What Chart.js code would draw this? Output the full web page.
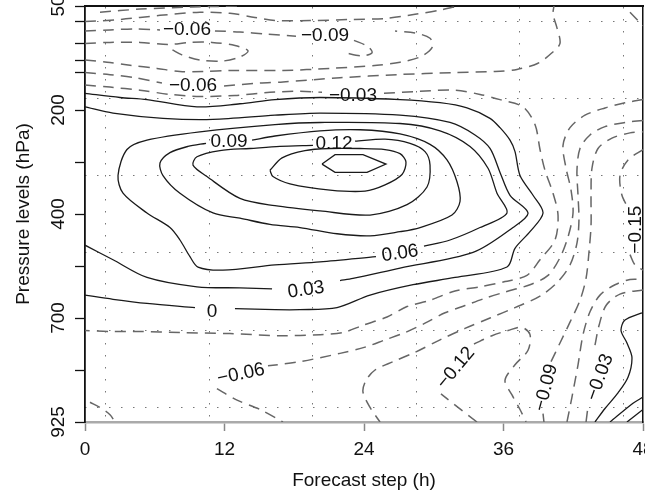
<!DOCTYPE html>
<html>
<head>
<meta charset="utf-8">
<script src="https://cdn.jsdelivr.net/npm/chart.js@4/dist/chart.umd.min.js"></script>
<style>
  html, body { margin: 0; padding: 0; background: #fff; }
  #wrap { width: 645px; height: 495px; }
</style>
</head>
<body>
<div id="wrap"><canvas id="contourChart"></canvas></div>
<script>
// axis ticks
const steps = [0, 12, 24, 36, 48];
const levelPos = [0, 1, 2, 3, 4];
const levelLabels = ['50', '200', '400', '700', '925'];
const minorLevelPos = [0.15, 0.36, 0.52, 0.64, 1.5, 2.5, 3.5];
// dotted overlay grid
const gridSteps = [1.8, 10.75, 19.6, 28.5, 37.4, 46.3];
const gridLevels = [0.15, 0.89, 1.63, 2.37, 3.12, 3.86];

// contour lines, points are [forecast step (h), level position]
const c0Top = [[0,0.84],[3.01,0.88],[5.33,0.90],[9.63,0.97],[13.33,0.94],[16.34,0.90],[20.22,0.88],[27.10,0.90],[30.54,0.93],[32.86,0.98],[34.84,1.08],[35.70,1.17],[36.56,1.29],[36.99,1.40],[37.42,1.63],[38.54,1.82],[39.40,1.99],[38.28,2.17],[36.99,2.33],[36.30,2.51],[31.83,2.61],[28.22,2.68],[24.52,2.78],[21.68,2.90],[18.49,2.92],[16.34,2.92],[12.90,2.91]];
const c0Left = [[9.46,2.90],[5.33,2.86],[2.41,2.82],[0,2.78]];
const c03Main = [[0,0.97],[2.41,1.03],[6.71,1.08],[11.01,1.09],[16.34,1.05],[20.22,1.03],[27.10,1.05],[31.40,1.12],[33.55,1.24],[34.84,1.37],[35.70,1.60],[36.56,1.82],[38.11,1.99],[36.82,2.13],[33.38,2.37],[27.10,2.52],[23.05,2.62],[21.94,2.64]];
const c03Left = [[16.09,2.72],[13.33,2.71],[9.63,2.70],[5.33,2.61],[2.41,2.44],[0,2.30]];
const c06 = [[29.16,2.31],[31.40,2.25],[33.98,2.13],[36.30,1.99],[35.44,1.80],[34.67,1.56],[33.12,1.35],[30.54,1.20],[27.10,1.13],[20.22,1.12],[16.34,1.14],[9.89,1.21],[5.33,1.29],[3.61,1.38],[2.84,1.63],[3.27,1.80],[5.33,1.99],[7.31,2.13],[8.17,2.25],[9.03,2.41],[9.72,2.51],[11.87,2.54],[16.34,2.49],[20.22,2.46],[25.03,2.41]];
const c09 = [[14.37,1.29],[16.34,1.25],[20.22,1.20],[23.66,1.19],[27.10,1.23],[29.68,1.33],[31.14,1.48],[32.00,1.69],[32.26,1.88],[31.57,2.01],[28.82,2.13],[27.10,2.17],[24.52,2.21],[21.68,2.19],[18.49,2.13],[15.91,2.10],[13.33,2.04],[11.01,1.99],[8.17,1.80],[6.71,1.63],[6.45,1.51],[7.31,1.41],[8.86,1.35],[10.41,1.32]];
const c12 = [[23.23,1.30],[25.81,1.28],[27.96,1.32],[29.25,1.40],[29.68,1.53],[29.42,1.74],[27.70,1.91],[24.52,2.01],[20.22,1.97],[16.34,1.92],[13.33,1.85],[10.49,1.64],[9.29,1.53],[9.63,1.45],[11.61,1.39],[14.19,1.37],[16.77,1.35],[19.61,1.34]];
const c15 = [[15.91,1.58],[16.95,1.46],[18.92,1.39],[21.08,1.37],[23.66,1.37],[25.81,1.38],[27.10,1.42],[27.61,1.50],[27.27,1.62],[25.81,1.72],[24.09,1.78],[21.08,1.77],[17.63,1.71],[16.17,1.64],[15.91,1.58]];
const c18 = [[20.39,1.52],[21.51,1.43],[23.91,1.43],[25.89,1.52],[24.26,1.60],[21.51,1.60],[20.39,1.52]];
const br1 = [[47.91,2.95],[46.45,3.02],[46.11,3.12],[46.62,3.24],[47.05,3.38],[46.71,3.57],[45.85,3.72],[44.73,3.87],[43.87,4.00]];
const br2 = [[45.16,4.00],[47.14,3.82],[48,3.76]];
const br3 = [[46.62,4.00],[48,3.88]];

const topA = [[1.29,0.06],[4.73,0.03],[9.03,0.01],[13.33,0]];
const topB = [[0,0.15],[3.01,0.13],[6.45,0.09],[9.89,0.06],[12.47,0.07],[14.62,0.11],[16.34,0.14],[19.35,0.14],[22.80,0.13],[25.81,0.12],[28.39,0.08],[30.54,0.04],[32.09,0]];
const topC = [[0,0.24],[2.15,0.23],[4.30,0.22],[6.45,0.23]];
const topE1 = [[11.18,0.24],[13.33,0.25],[15.48,0.27],[18.15,0.29]];
const topE2 = [[23.14,0.33],[24.34,0.39],[24.69,0.45],[23.83,0.48],[22.37,0.45]];
const topD = [[0,0.36],[2.15,0.35],[4.73,0.35],[7.14,0.37],[9.03,0.35],[10.92,0.35],[12.90,0.38],[14.02,0.43],[13.33,0.49],[11.78,0.53],[9.89,0.52],[8.34,0.47],[7.48,0.42]];
const topG = [[0,0.52],[1.89,0.54],[3.87,0.57],[6.19,0.60],[8.17,0.63],[10.15,0.63],[12.47,0.62],[17.03,0.62],[21.08,0.60],[25.12,0.57],[27.10,0.54],[28.82,0.49],[29.85,0.40],[29.68,0.31],[28.39,0.26],[26.67,0.24]];
const topH1 = [[0,0.64],[2.15,0.66],[4.30,0.69],[6.62,0.74]];
const topH2 = [[11.96,0.77],[15.05,0.74],[17.03,0.73],[21.94,0.69],[26.84,0.66],[31.66,0.64],[35.27,0.63],[37.16,0.61],[38.97,0.55],[40.17,0.45],[40.86,0.36],[40.60,0.21],[40.26,0.08],[40.34,0]];
const midI1 = [[0,0.76],[2.15,0.78],[4.73,0.81],[7.31,0.85],[9.89,0.87],[12.90,0.86],[15.91,0.83],[18.49,0.82],[20.39,0.83]];
const midI2 = [[25.72,0.84],[28.82,0.82],[31.83,0.81],[33.98,0.85],[35.70,0.90],[37.68,0.97],[38.71,1.14],[39.14,1.38],[39.57,1.58],[40.26,1.80],[40.69,2.01],[40.43,2.25],[39.14,2.44],[38.02,2.59],[36.13,2.65],[33.98,2.70],[31.83,2.74],[29.68,2.83],[27.70,2.89],[25.98,2.99],[23.91,3.07],[22.19,3.14],[20.22,3.16],[16.77,3.17],[12.47,3.15],[8.17,3.14],[4.73,3.13],[2.15,3.13],[0,3.12]];
const lowP = [[48,0.90],[46.45,0.93],[44.73,0.98],[43.01,1.05],[41.72,1.17],[41.12,1.34],[41.38,1.56],[41.81,1.77],[41.98,1.99],[41.55,2.22],[40.86,2.42],[39.83,2.59],[38.28,2.68],[36.13,2.75],[34.41,2.81],[32.69,2.88],[30.97,2.95],[29.25,3.05],[27.53,3.14],[25.81,3.21],[24.09,3.28],[21.94,3.34],[18.49,3.42],[15.74,3.46]];
const lowP2 = [[11.35,3.68],[13.08,3.79],[15.05,3.88],[17.03,4.00]];
const lowM = [[48,1.10],[46.45,1.12],[44.73,1.16],[43.44,1.24],[42.58,1.37],[42.32,1.58],[42.41,1.82],[42.49,2.06],[42.32,2.28],[41.72,2.49],[40.69,2.65],[39.14,2.79],[36.99,2.90],[34.84,3.00],[32.69,3.10],[30.54,3.21],[28.39,3.33],[26.49,3.42],[24.95,3.50],[24.17,3.60],[23.91,3.71],[24.52,3.86],[25.38,4.00]];
const lowK1 = [[33.72,4.00],[32.09,3.86],[30.62,3.73]];
const lowK2 = [[33.46,3.25],[35.01,3.17],[36.39,3.12],[37.59,3.09],[38.28,3.16],[38.11,3.31],[36.99,3.45],[36.13,3.60],[36.73,3.74],[37.42,3.88],[37.94,4.00]];
const lowQ1 = [[39.48,4.00],[39.40,3.92]];
const lowQ2 = [[40.09,3.42],[40.86,3.24],[41.72,3.04],[42.58,2.83],[43.10,2.62],[43.35,2.37],[43.53,2.11],[43.53,1.82],[43.61,1.56],[44.13,1.37],[45.33,1.27],[46.88,1.22],[48,1.21]];
const lowV = [[41.46,4.00],[41.89,3.76],[42.41,3.45],[42.84,3.16],[43.44,2.94],[44.30,2.78],[45.59,2.68],[46.88,2.63],[48,2.63]];
const lowR1 = [[43.10,4.00],[43.27,3.85]];
const lowR2 = [[43.87,3.26],[44.22,3.07],[44.82,2.88],[46.02,2.77],[48,2.73]];
const rightS1 = [[48,1.38],[46.71,1.48],[46.02,1.63],[46.19,1.82],[46.71,1.94]];
const rightS2 = [[46.88,2.39],[47.31,2.49],[48,2.54]];
const cornerBL = [[0.43,3.81],[1.29,3.86],[2.15,3.93],[2.58,4.00]];
const cornerTR = [[46.88,0.06],[48,0.19]];

const contours = [
  [c0Top, 0], [c0Left, 0], [c03Main, 0.03], [c03Left, 0.03], [c06, 0.06], [c09, 0.09],
  [c12, 0.12], [c15, 0.15], [c18, 0.18], [br1, 0.03], [br2, 0.06], [br3, 0.09],
  [topA, -0.03], [topB, -0.03], [topC, -0.06], [topE1, -0.09], [topE2, -0.09], [topD, -0.09],
  [topG, -0.06], [topH1, -0.06], [topH2, -0.06], [midI1, -0.03], [midI2, -0.03],
  [lowP, -0.06], [lowP2, -0.06], [lowM, -0.09], [lowK1, -0.12], [lowK2, -0.12],
  [lowQ1, -0.09], [lowQ2, -0.09], [lowV, -0.06], [lowR1, -0.03], [lowR2, -0.03],
  [rightS1, -0.15], [rightS2, -0.15], [cornerBL, -0.03], [cornerTR, -0.03]
];

// contour labels
const labelText = ['\u22120.06', '\u22120.09', '\u22120.06', '\u22120.03', '0.09', '0.12', '0.06', '0.03', '0', '\u22120.06', '\u22120.12', '\u22120.09', '\u22120.03', '\u22120.15'];
const labelStep = [8.77, 20.65, 9.29, 23.05, 12.39, 21.42, 27.10, 19.01, 10.92, 13.42, 31.91, 39.66, 44.30, 47.40];
const labelLevel = [0.23, 0.29, 0.77, 0.86, 1.31, 1.32, 2.38, 2.73, 2.94, 3.54, 3.48, 3.67, 3.57, 2.15];
const labelAngle = [0, 0, 0, 0, 0, 0, -8, -8, 0, -12, -50, -75, -70, -90];

const FONT = 'Liberation Sans, Arial, sans-serif';

const datasets = contours.map(([pts, v]) => ({
  data: pts.map(p => ({ x: p[0], y: p[1] })),
  showLine: true,
  pointRadius: 0,
  borderColor: v < 0 ? '#666' : '#1a1a1a',
  borderWidth: v < 0 ? 1.5 : 1.3,
  borderDash: v < 0 ? [11, 7] : [],
  tension: pts === c18 ? 0 : 0.3,
  fill: false
}));

const contourLabels = {
  id: 'contourLabels',
  afterDatasetsDraw(chart) {
    const { ctx, scales: { x, y } } = chart;
    ctx.save();
    ctx.font = '19px ' + FONT;
    ctx.fillStyle = '#111';
    ctx.textAlign = 'center';
    ctx.textBaseline = 'middle';
    labelText.forEach((t, i) => {
      ctx.save();
      ctx.translate(x.getPixelForValue(labelStep[i]), y.getPixelForValue(labelLevel[i]));
      ctx.rotate(labelAngle[i] * Math.PI / 180);
      ctx.fillText(t, 0, 0);
      ctx.restore();
    });
    ctx.restore();
  }
};

function noPad(scale) {
  scale.paddingLeft = 0; scale.paddingRight = 0;
  scale.paddingTop = 0; scale.paddingBottom = 0;
}

new Chart(document.getElementById('contourChart'), {
  type: 'scatter',
  data: { datasets },
  options: {
    responsive: true,
    maintainAspectRatio: false,
    animation: false,
    layout: { padding: { top: 6, right: 2, left: 0, bottom: 0 } },
    plugins: { legend: { display: false }, tooltip: { enabled: false } },
    scales: {
      x: {
        type: 'linear', position: 'bottom', min: 0, max: 48,
        afterBuildTicks: s => { s.ticks = steps.map(v => ({ value: v })); },
        afterFit: s => { s.height = 73; noPad(s); },
        grid: { drawOnChartArea: false, tickLength: 9, tickColor: '#888', tickWidth: 1.5 },
        border: { color: '#aaa', width: 2.5 },
        ticks: { autoSkip: false, maxRotation: 0, padding: 7, color: '#111', font: { family: FONT, size: 19 } },
        title: { display: true, text: 'Forecast step (h)', color: '#111', font: { family: FONT, size: 19 }, padding: { top: 0, bottom: 3 } }
      },
      y: {
        type: 'linear', position: 'left', min: 0, max: 4, reverse: true,
        afterBuildTicks: s => {
          s.ticks = levelPos.concat(minorLevelPos).sort((a, b) => a - b).map(v => ({ value: v }));
        },
        afterFit: s => { s.width = 85; noPad(s); },
        grid: { drawOnChartArea: false, tickLength: 10, tickColor: '#111', tickWidth: 1.3 },
        border: { color: '#111', width: 1.8 },
        ticks: {
          autoSkip: false, minRotation: 90, maxRotation: 90, crossAlign: 'center', padding: 0,
          color: '#111', font: { family: FONT, size: 19 },
          callback: v => { const i = levelPos.indexOf(v); return i >= 0 ? levelLabels[i] : ''; }
        },
        title: { display: true, text: 'Pressure levels (hPa)', color: '#111', font: { family: FONT, size: 19 }, padding: { top: 12, bottom: 0 } }
      },
      x2: {
        type: 'linear', position: 'top', min: 0, max: 48,
        afterBuildTicks: s => { s.ticks = gridSteps.map(v => ({ value: v })); },
        afterFit: s => { s.height = 0; noPad(s); },
        grid: { drawTicks: false, color: '#777', lineWidth: 1 },
        border: { color: '#111', width: 2, dash: [1.5, 10.5] },
        ticks: { display: false }
      },
      y2: {
        type: 'linear', position: 'right', min: 0, max: 4, reverse: true,
        afterBuildTicks: s => { s.ticks = gridLevels.map(v => ({ value: v })); },
        afterFit: s => { s.width = 0; noPad(s); },
        grid: { drawTicks: false, color: '#777', lineWidth: 1 },
        border: { color: '#111', width: 1.5, dash: [1.5, 10.5] },
        ticks: { display: false }
      }
    }
  },
  plugins: [contourLabels]
});
</script>
</body>
</html>
